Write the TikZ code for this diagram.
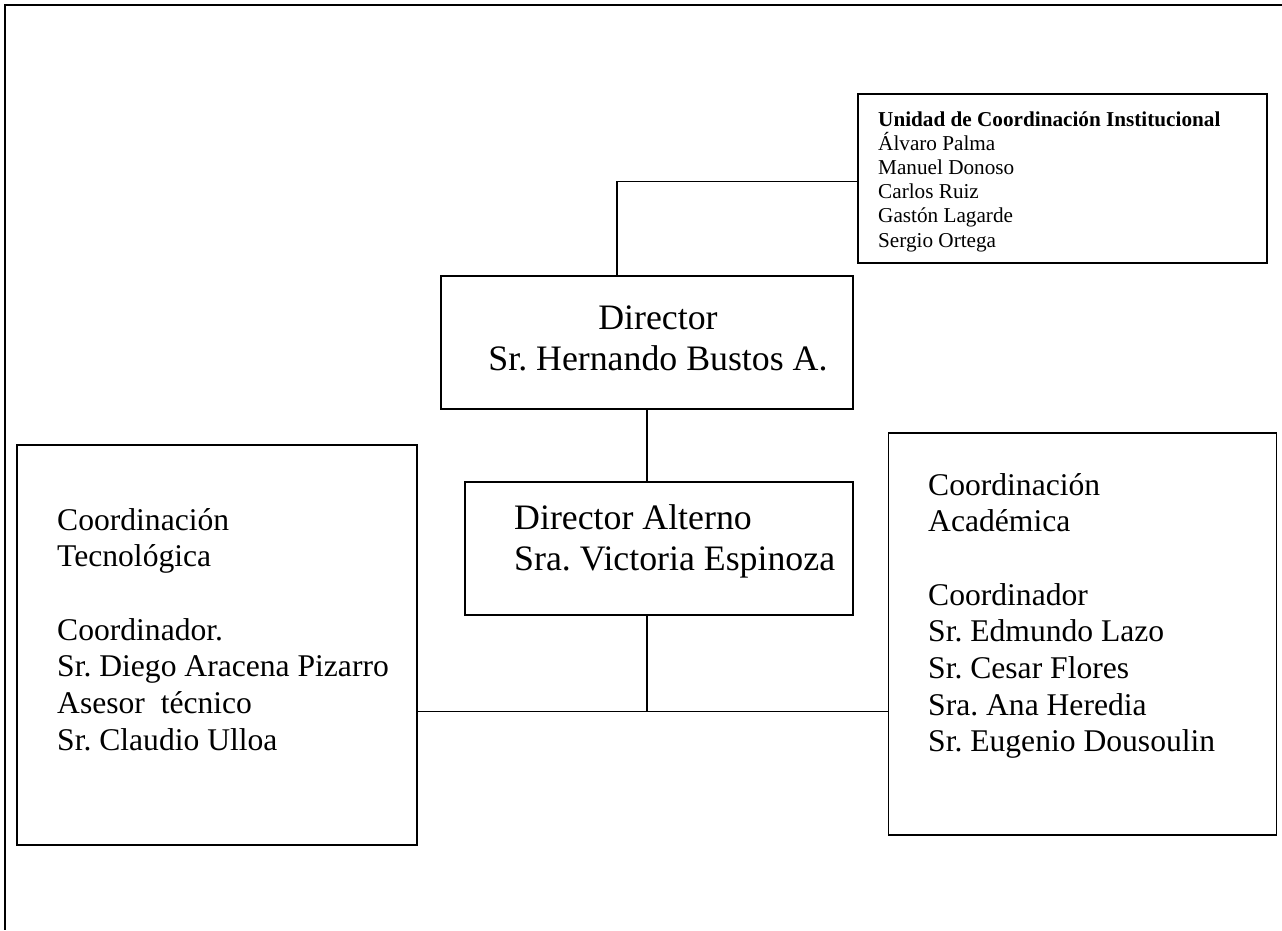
\documentclass[tikz,border=0pt]{standalone}
\usepackage{fontspec}
\setmainfont{Liberation Serif}
\frenchspacing
\begin{document}
\begin{tikzpicture}[x=1pt,y=-1pt,
  caja/.style={rectangle,draw,line width=1.6pt,inner sep=0,outer sep=0},
  enlace/.style={line width=1.5pt},
  big/.style={font=\fontsize{35.8}{41}\selectfont,inner sep=0},
  med/.style={font=\fontsize{31.6}{36.7}\selectfont,inner sep=0,anchor=base west},
  small/.style={font=\fontsize{21.2}{24.2}\selectfont,inner sep=0,anchor=base west}]
\useasboundingbox (0,0) rectangle (1282,930);
% marco
\draw[line width=2pt] (5,5) -- (1282,5);
\draw[line width=1.5pt] (5,4) -- (5,930);
% cajas
\draw (1062.5,178.5) node[caja,minimum width=409pt,minimum height=169pt] (unidad) {};
\draw (647,342.7) node[caja,minimum width=412pt,minimum height=133pt] (director) {};
\draw (659,548.3) node[caja,minimum width=388pt,minimum height=133pt] (alterno) {};
\draw (216.7,645) node[caja,minimum width=400pt,minimum height=400pt] (tecnologica) {};
\draw (1082.5,634.2) node[caja,minimum width=388pt,minimum height=402pt] (academica) {};
% textos
\draw (878,126) node[small] {\textbf{Unidad de Coordinación Institucional}};
\foreach \n/\t in {1/Álvaro Palma,2/Manuel Donoso,3/Carlos Ruiz,4/Gastón Lagarde,5/Sergio Ortega}
  \draw (878,126+24.2*\n) node[small] {\t};
\draw (658,329) node[big,anchor=base] {Director};
\draw (658,370) node[big,anchor=base] {Sr. Hernando Bustos A.};
\draw (514,529) node[big,anchor=base west] {Director Alterno};
\draw (514,570) node[big,anchor=base west] {Sra. Victoria Espinoza};
\foreach \n/\t in {0/Coordinación,1/Tecnológica,3/Coordinador.,4/Sr. Diego Aracena Pizarro,5/Asesor~~técnico,6/Sr. Claudio Ulloa}
  \draw (57,530+36.7*\n) node[med] {\t};
\foreach \n/\t in {0/Coordinación,1/Académica,3/Coordinador,4/Sr. Edmundo Lazo,5/Sr. Cesar Flores,6/Sra. Ana Heredia,7/Sr. Eugenio Dousoulin}
  \draw (928,495+36.7*\n) node[med] {\t};
% enlaces
\coordinate (union) at (647,711.7);
\draw[enlace] ([yshift=-3pt]unidad.west) -| ([xshift=-30pt]director.north);
\draw[enlace] (director.south) -- (director.south |- alterno.north);
\draw[enlace] (alterno.south -| union) -- (union);
\draw[enlace] (tecnologica.east |- union) -- (academica.west |- union);
\end{tikzpicture}
\end{document}
